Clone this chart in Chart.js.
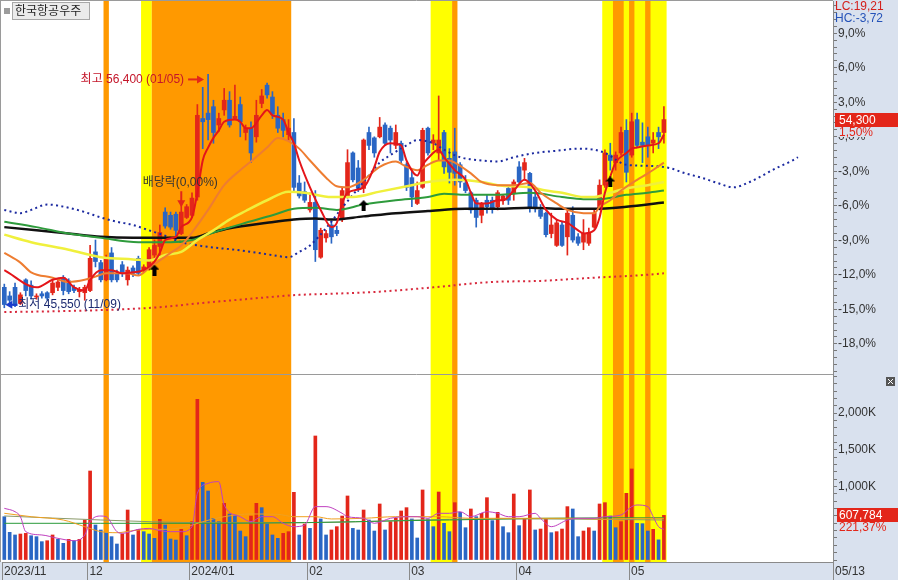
<!DOCTYPE html>
<html lang="ko">
<head>
<meta charset="utf-8">
<title>한국항공우주</title>
<script src="https://cdn.jsdelivr.net/npm/chart.js@4.4.1/dist/chart.umd.min.js"></script>
<style>
  html, body { margin: 0; padding: 0; background: #fff; }
  canvas { display: block; }
</style>
</head>
<body>
<canvas id="stockChart" width="898" height="580"></canvas>
<script>
const stockName = "한국항공우주";

// daily candles, 2023/11/09 .. 2024/05/13 (index 0..123)
const candleOpen = [46500,46100,46500,45750,46850,46600,46050,46200,46250,46250, 46500,46950,46800,46500,46300,46250,46350,48150,47650,46850, 48100,47150,47550,46850,47400,47850,47300,47400,48000,48400, 50000,49850,49900,49000,49750,49850,50700,54350,54600,54900, 54050,54750,55200,54350,55000,53700,53900,53500,55050,55900, 55350,54500,54300,53600,53700,51350,50950,50100,50450,47900, 48800,49400,49150,49650,50700,52750,52050,51100,53700,53450, 53500,54050,53900,53100,53200,52200,51600,50400,51150,53900, 53200,52750,53700,52500,52800,52200,51350,50900,50550,49850, 50550,50550,50250,50550,51100,50900,52100,51950,51800,50700, 50100,49950,49000,48450,49400,48850,49850,48850,48600,48550, 49300,50200,51250,52650,52300,52750,53800,52650,54300,53250, 53500,53200,53700,53700];
const candleHigh = [46650,46300,46700,46250,46900,46800,46200,46300,46300,46850, 46850,47050,46900,46600,46500,46600,48450,48700,47750,48000, 48350,47300,47700,47450,47500,47950,47550,48350,48700,49400, 50200,50000,50000,50550,50350,50900,55000,55800,56400,55200, 54600,55750,55600,55900,55350,54050,54200,55200,55700,56000, 55600,54900,54600,54300,54350,51700,51400,50900,51000,49250, 49150,49550,49350,51150,52900,52800,52400,53400,53950,53500, 54400,54150,54000,54050,53300,52300,51950,51400,53900,53950, 53600,55400,53800,52950,53900,52300,51700,50950,50650,50450, 50800,50700,51000,50800,51150,51500,52350,52500,51850,50950, 50350,50000,49950,49650,49550,50100,50250,49000,49650,49250, 50100,51500,52900,53200,52800,53950,54300,54600,54600,54150, 53950,53700,53950,54900];
const candleLow = [45550,45750,45600,45700,46100,45950,45950,46000,45900,46150, 46350,46150,46200,46250,46050,45900,46300,47450,46750,46800, 46750,46750,47000,46600,47000,47050,47200,47300,47750,47900, 49250,49200,48700,48950,49700,49750,50550,52950,53350,53200, 53750,54500,53950,54300,53500,53350,52300,53250,54850,55300, 54350,53700,53500,53350,50900,50650,50450,50000,47700,47850, 48600,48550,48900,49550,50650,51400,50950,50900,52900,52550, 53450,53100,52750,52950,52300,51000,50250,50350,51100,52650, 52900,52400,51800,51350,51250,51150,50900,49950,49300,49500, 49950,49950,50100,50350,50350,50550,51350,51500,50000,50000, 49700,48850,48800,48400,48400,48000,48600,48450,48250,48450, 49250,50100,51150,51950,51950,52650,51400,52550,53000,52300, 52550,52750,52950,53200];
const candleClose = [45700,45900,45650,46150,46350,46100,46100,46100,46000,46700, 46750,46350,46300,46350,46400,46500,47850,47700,46850,47850, 46850,46850,47150,47300,47150,47150,47450,48250,48450,49050, 49350,49300,49150,50000,50250,50650,54500,54200,54300,53700, 54350,55200,54050,54450,54200,53900,52750,54500,55400,55450, 54550,53900,53800,53900,51150,50750,50550,50450,48250,49150, 49000,48850,49000,51000,52300,51500,51100,53350,53100,52750, 53950,53200,53350,53700,52400,51150,50700,51000,53800,52750, 53350,53350,52100,51850,51800,51400,51000,50100,49750,50400, 50250,50200,50900,50750,50550,51400,51400,52300,50200,50250, 49800,48950,49400,49500,48450,49950,48700,48550,49000,49050, 49950,51250,52750,52400,52650,53700,51850,54200,53100,53100, 53100,53350,53500,54300];
const volume = [590000,377000,341000,354000,363000,331000,318000,250000,263000,341000, 282000,227000,282000,263000,282000,545000,1212000,477000,409000,377000, 318000,218000,354000,681000,341000,418000,386000,354000,295000,554000, 477000,286000,272000,418000,331000,522000,2189000,1058000,940000,568000, 522000,772000,627000,613000,395000,318000,599000,772000,713000,490000, 341000,295000,363000,386000,922000,341000,490000,431000,1689000,559000, 341000,409000,454000,599000,872000,431000,409000,681000,545000,395000, 763000,409000,522000,568000,668000,713000,559000,300000,954000,559000, 454000,926000,500000,386000,781000,649000,440000,695000,590000,636000, 849000,536000,649000,454000,372000,899000,468000,554000,954000,409000, 422000,554000,372000,386000,422000,727000,695000,318000,395000,440000, 395000,763000,781000,599000,440000,522000,908000,1240000,500000,495000, 395000,418000,274560,607784];

// price lines: [bar index, price]
const ma5 = [[0,47300],[6,46500],[9,46850],[11,46950],[13,46500],[15,46350],[16,46850],[18,47300],[20,47300],[22,47150],[24,47200],[26,47300],[28,47700],[29,48100],[30,48700],[32,48850],[33,49300],[35,49750],[36,50900],[37,52400],[38,53000],[39,53450],[40,53800],[41,54200],[43,54300],[44,54200],[45,53900],[46,53900],[48,54500],[49,54750],[50,54500],[52,54300],[53,53700],[54,53200],[55,52400],[57,51150],[59,50100],[61,49300],[62,49500],[63,50400],[64,50900],[67,51150],[69,52100],[70,52800],[72,53200],[74,53100],[75,52400],[77,51700],[78,52200],[79,52500],[81,52900],[82,52550],[84,51950],[86,51500],[87,50900],[88,50400],[90,50400],[92,50550],[93,50550],[95,51000],[97,51500],[99,51000],[101,50100],[103,49650],[105,49500],[107,49150],[108,49000],[110,49150],[111,49750],[112,50900],[113,51650],[114,52300],[116,52750],[117,52950],[118,53000],[120,53100],[122,53200],[123,53600]];
const ma20 = [[0,48100],[3,47650],[5,47200],[9,46950],[12,46750],[15,46850],[17,47000],[19,47150],[23,47150],[25,47050],[27,47400],[29,47750],[31,48100],[33,48450],[35,49050],[38,50100],[41,51250],[44,51950],[46,52350],[49,53000],[51,53450],[53,53300],[55,52950],[57,52400],[60,51600],[62,51200],[64,51150],[67,51500],[70,52100],[73,52350],[75,52100],[77,51950],[79,52200],[81,52400],[83,52400],[84,52300],[87,51800],[89,51400],[92,51250],[95,51250],[98,51350],[100,50900],[103,50400],[105,50100],[108,49950],[110,49950],[111,50250],[113,50550],[115,51000],[118,51500],[120,51800],[123,52300]];
const ma60 = [[0,48950],[5,48600],[12,48250],[18,47900],[24,47800],[27,47750],[30,48000],[33,48150],[36,48700],[39,49150],[42,49650],[45,50050],[49,50550],[53,50950],[56,50900],[61,50700],[65,50700],[70,50950],[76,51250],[79,51400],[84,51500],[89,51400],[92,51250],[98,51150],[101,51000],[104,50900],[108,50700],[110,50700],[113,50900],[116,51100],[120,51250],[123,51400]];
const ma120 = [[0,49550],[6,49300],[12,49000],[18,48800],[25,48600],[31,48600],[35,48700],[39,49050],[45,49500],[50,49850],[54,50150],[58,50200],[62,50100],[67,50350],[73,50550],[79,50700],[82,50850],[86,50800],[92,50800],[98,50900],[104,50700],[108,50600],[111,50600],[116,50800],[120,50900],[123,51000]];
const ma240 = [[0,49300],[6,49150],[12,49000],[18,48850],[24,48800],[30,48800],[35,48800],[38,49000],[42,49250],[49,49500],[54,49650],[58,49700],[61,49650],[67,49800],[73,49950],[79,50050],[86,50150],[92,50150],[98,50200],[104,50150],[110,50150],[116,50250],[123,50450]];
const leadSpan = [[0,50100],[3,49950],[5,50100],[8,50350],[12,50200],[15,50000],[18,49750],[21,49550],[24,49400],[27,49150],[30,48900],[33,48600],[36,48450],[39,48350],[43,48250],[46,48150],[50,48000],[53,47900],[55,48150],[57,48450],[60,49250],[63,50200],[66,51100],[68,51700],[70,52300],[72,52650],[75,53100],[77,53350],[80,53200],[82,52900],[85,52550],[89,52400],[92,52350],[95,52550],[99,52750],[103,52850],[107,52950],[110,52900],[112,52750],[116,52200],[120,52150],[124,52050],[127,51800],[130,51600],[133,51350],[136,51150],[139,51400],[141,51650],[144,52050],[147,52400],[148,52550]];
const lowerBand = [[0,45350],[12,45400],[24,45500],[30,45600],[36,45750],[45,45950],[55,46150],[61,46200],[70,46300],[80,46500],[91,46750],[100,46800],[110,46950],[118,47050],[123,47150]];

// volume lines: [bar index, shares]
const vma5 = [[0,704000],[2,658000],[3,590000],[4,386000],[7,341000],[10,295000],[13,263000],[15,341000],[16,522000],[18,599000],[19,590000],[21,386000],[22,363000],[25,418000],[27,431000],[29,400000],[31,386000],[33,386000],[35,454000],[36,908000],[38,1044000],[40,1067000],[41,749000],[44,590000],[46,522000],[48,590000],[50,590000],[52,500000],[54,454000],[56,477000],[58,727000],[60,727000],[63,636000],[64,590000],[67,568000],[69,500000],[72,568000],[75,590000],[77,590000],[79,568000],[81,636000],[83,636000],[85,658000],[87,590000],[90,658000],[92,636000],[94,590000],[96,590000],[99,636000],[100,568000],[102,454000],[105,545000],[107,568000],[110,568000],[112,590000],[115,613000],[117,727000],[118,749000],[120,727000],[121,590000],[122,454000],[123,418000]];
const vma20 = [[0,636000],[5,590000],[11,545000],[15,454000],[18,386000],[21,372000],[24,400000],[27,418000],[30,418000],[34,454000],[37,522000],[41,590000],[46,627000],[51,622000],[54,590000],[58,590000],[61,559000],[67,568000],[73,590000],[81,590000],[87,568000],[93,568000],[100,568000],[106,568000],[112,554000],[118,568000],[123,568000]];
const vma60 = [[0,500000],[18,500000],[37,500000],[56,509000],[75,536000],[83,545000],[100,568000],[123,577000]];
const vma120 = [[0,600000],[18,545000],[37,509000],[56,509000],[83,554000],[100,559000],[123,545000]];

// signal periods (bar index ranges)
const yellowBands = [[26,27],[80,83],[112,123]];
const orangeBands = [[19,19],[28,53],[84,84],[114,115],[117,117],[120,120]];
const buySignalIdx = [28, 67, 113];
const buySignalPrice = [47300, 50300, 51400];
const exDivIdx = 33;
const exDivLabel = "배당락(0,00%)";
const highDate = "01/05";
const lowDate = "11/09";

// x axis
const monthTickIdx = [-0.43, 15.5, 34.5, 56.5, 75.5, 95.5, 116.5, 154.53];
const monthLabels = ["2023/11", "12", "2024/01", "02", "03", "04", "05", "05/13"];

const uiFont = "'Liberation Sans', 'Noto Sans CJK KR', sans-serif";
const axisBg = "#d9e1ee";
const upColor = "#e3261a";
const downColor = "#2a66c4";
const basePrice = candleClose[candleClose.length - 2];

const candleColors = candleOpen.map((o, i) => candleClose[i] >= o ? upColor : downColor);
const volumeColors = volume.map((v, i) => i > 0 && v >= volume[i - 1] ? upColor : downColor);

const fmt = v => Math.round(v).toLocaleString("en-US");
const pct = v => v.toFixed(2).replace(".", ",");

// small black "buy" arrow used as point style
const buyArrow = document.createElement("canvas");
buyArrow.width = 10;
buyArrow.height = 11;
(() => {
  const c = buyArrow.getContext("2d");
  c.fillStyle = "#000";
  c.beginPath();
  c.moveTo(5, 0); c.lineTo(10, 5); c.lineTo(7, 5); c.lineTo(7, 11);
  c.lineTo(3, 11); c.lineTo(3, 5); c.lineTo(0, 5);
  c.closePath();
  c.fill();
})();

function arrow(ctx, x1, y1, x2, y2, color) {
  const a = Math.atan2(y2 - y1, x2 - x1), c = Math.cos(a), s = Math.sin(a);
  ctx.strokeStyle = color;
  ctx.fillStyle = color;
  ctx.lineWidth = 2;
  ctx.beginPath();
  ctx.moveTo(x1, y1);
  ctx.lineTo(x2 - 5 * c, y2 - 5 * s);
  ctx.stroke();
  ctx.beginPath();
  ctx.moveTo(x2, y2);
  ctx.lineTo(x2 - 7 * c + 4 * s, y2 - 7 * s - 4 * c);
  ctx.lineTo(x2 - 7 * c - 4 * s, y2 - 7 * s + 4 * c);
  ctx.closePath();
  ctx.fill();
}

const backdrop = {
  id: "backdrop",
  beforeDraw(chart) {
    const {ctx, width, height, chartArea: a} = chart;
    ctx.save();
    ctx.fillStyle = "#fff";
    ctx.fillRect(0, 0, width, height);
    ctx.fillStyle = axisBg;
    ctx.fillRect(a.right, 0, width - a.right, height);
    ctx.fillRect(0, a.bottom, a.right, height - a.bottom);
    ctx.restore();
  },
  beforeDatasetsDraw(chart) {
    const {ctx, chartArea: a, scales} = chart;
    const xs = scales.x;
    ctx.save();
    const paint = (list, color) => list.forEach(([s, e]) => {
      const l = xs.getPixelForValue(s - 0.5), r = xs.getPixelForValue(e + 0.5);
      ctx.fillStyle = color;
      ctx.fillRect(l, a.top, r - l, a.bottom - a.top);
    });
    paint(yellowBands, "#ffff00");
    paint(orangeBands, "#ff9900");
    const sep = Math.round(scales.yv.top) + 0.5;
    ctx.strokeStyle = "#9a9a9a";
    ctx.lineWidth = 1;
    ctx.beginPath();
    ctx.moveTo(0, sep);
    ctx.lineTo(a.right, sep);
    ctx.stroke();
    ctx.restore();
  }
};

const overlay = {
  id: "overlay",
  afterDraw(chart) {
    const {ctx, chartArea: a, scales} = chart;
    const xs = scales.x, ys = scales.y, yv = scales.yv;
    const n = candleClose.length;
    const last = candleClose[n - 1], prev = candleClose[n - 2];
    ctx.save();
    ctx.font = "12px " + uiFont;
    ctx.textBaseline = "middle";

    // frame
    ctx.strokeStyle = "#9a9a9a";
    ctx.lineWidth = 1;
    ctx.beginPath();
    ctx.moveTo(0.5, 0);
    ctx.lineTo(0.5, a.bottom);
    ctx.moveTo(0, 0.5);
    ctx.lineTo(a.right, 0.5);
    ctx.stroke();

    // name box
    ctx.fillStyle = "#9c9c9c";
    ctx.fillRect(4, 8, 6, 6);
    ctx.fillStyle = "#ebebeb";
    ctx.fillRect(12, 2, 78, 18);
    ctx.strokeStyle = "#a8a8a8";
    ctx.strokeRect(12.5, 2.5, 77, 17);
    ctx.fillStyle = "#222";
    ctx.fillText(stockName, 15, 11.5);

    // LC / HC
    const lo = candleLow.indexOf(Math.min(...candleLow));
    const hi = candleHigh.indexOf(Math.max(...candleHigh));
    ctx.fillStyle = "#d4201c";
    ctx.fillText("LC:" + pct((last / candleLow[lo] - 1) * 100), a.right + 2, 7);
    ctx.fillStyle = "#2452b8";
    ctx.fillText("HC:" + pct((last / candleHigh[hi] - 1) * 100), a.right + 2, 19);

    // last price
    const py = Math.round(ys.getPixelForValue(last));
    ctx.fillStyle = upColor;
    ctx.fillRect(a.right + 2, py - 7, 63, 14);
    ctx.fillStyle = "#fff";
    ctx.fillText(fmt(last), a.right + 6, py + 0.5);
    ctx.fillStyle = axisBg;
    ctx.fillRect(a.right + 4, py + 7, 40, 10);
    ctx.fillStyle = upColor;
    ctx.fillText(pct((last / prev - 1) * 100) + "%", a.right + 6, py + 13);

    // last volume
    const lv = volume[n - 1], pv = volume[n - 2];
    const vy = Math.round(yv.getPixelForValue(lv));
    ctx.fillStyle = upColor;
    ctx.fillRect(a.right + 4, vy - 7, 61, 14);
    ctx.fillStyle = "#fff";
    ctx.fillText(fmt(lv), a.right + 6, vy + 0.5);
    ctx.fillStyle = axisBg;
    ctx.fillRect(a.right + 4, vy + 7, 50, 12);
    ctx.fillStyle = upColor;
    ctx.fillText(pct(lv / pv * 100) + "%", a.right + 6, vy + 13);

    // close icon on the volume pane
    const iy = Math.round(yv.top) + 3;
    ctx.fillStyle = "#555";
    ctx.fillRect(886, iy, 9, 9);
    ctx.strokeStyle = "#fff";
    ctx.lineWidth = 1;
    ctx.beginPath();
    ctx.moveTo(888, iy + 2); ctx.lineTo(893, iy + 7);
    ctx.moveTo(893, iy + 2); ctx.lineTo(888, iy + 7);
    ctx.stroke();

    // highest
    const hx = xs.getPixelForValue(hi), hy = ys.getPixelForValue(candleHigh[hi]);
    ctx.textAlign = "right";
    ctx.fillStyle = "#c4162a";
    ctx.fillText("최고 " + fmt(candleHigh[hi]) + " (" + highDate + ")", hx - 24, hy + 5);
    arrow(ctx, hx - 20, hy + 5, hx - 4, hy + 5, upColor);

    // lowest
    const lx = xs.getPixelForValue(lo), ly = ys.getPixelForValue(candleLow[lo]);
    arrow(ctx, lx + 13, ly - 3, lx + 1, ly - 3, "#1a3ccc");
    ctx.textAlign = "left";
    ctx.fillStyle = "#1c2a70";
    ctx.fillText("최저 " + fmt(candleLow[lo]) + " (" + lowDate + ")", lx + 14, ly - 3);

    // ex-dividend
    const dx = xs.getPixelForValue(exDivIdx), dy = ys.getPixelForValue(candleHigh[exDivIdx]);
    ctx.textAlign = "center";
    ctx.fillStyle = "#333";
    ctx.fillText(exDivLabel, dx - 1, dy - 18);
    arrow(ctx, dx, dy - 9, dx, dy + 7, upColor);
    ctx.restore();
  }
};

const lineSet = (data, color, width, order, extra) => Object.assign({
  type: "line", data, borderColor: color, borderWidth: width, pointRadius: 0,
  cubicInterpolationMode: "monotone", fill: false, order, yAxisID: "y"
}, extra || {});

const axisFont = {family: uiFont, size: 12};
const fitY = s => { s.width = 65; s.paddingTop = 0; s.paddingBottom = 0; };

new Chart(document.getElementById("stockChart"), {
  type: "bar",
  data: {
    datasets: [
      {
        type: "line", data: buySignalIdx.map((v, i) => [v, buySignalPrice[i]]), showLine: false,
        pointStyle: buyArrow, pointRadius: 5, order: 0, yAxisID: "y"
      },
      lineSet(ma5, "#e4151a", 2, 1),
      lineSet(ma20, "#ee7d31", 2, 2),
      lineSet(ma60, "#f0f03c", 2.5, 3),
      lineSet(ma120, "#2e9b3c", 2, 4),
      lineSet(ma240, "#111111", 2.5, 5),
      lineSet(leadSpan, "#1c2aa0", 2, 6, {borderDash: [2, 3.36]}),
      lineSet(lowerBand, "#d8283c", 2, 6, {borderDash: [2, 3.36]}),
      {
        type: "bar", data: candleOpen.map((o, i) => ({x: i, y: [o, candleClose[i]]})),
        backgroundColor: candleColors, barThickness: 4, grouped: false, minBarLength: 1,
        order: 8, yAxisID: "y"
      },
      {
        type: "bar", data: candleLow.map((l, i) => ({x: i, y: [l, candleHigh[i]]})),
        backgroundColor: candleColors, barThickness: 1, grouped: false,
        order: 9, yAxisID: "y"
      },
      lineSet(vma5, "#c040c0", 1, 1, {yAxisID: "yv"}),
      lineSet(vma20, "#f0a020", 1, 2, {yAxisID: "yv"}),
      lineSet(vma60, "#2a9a3a", 1, 3, {yAxisID: "yv"}),
      lineSet(vma120, "#8a9a6a", 1, 4, {yAxisID: "yv"}),
      {
        type: "bar", data: volume.map((v, i) => ({x: i, y: v})),
        backgroundColor: volumeColors, barThickness: 3, grouped: false,
        order: 9, yAxisID: "yv"
      }
    ]
  },
  options: {
    responsive: false,
    animation: false,
    events: [],
    devicePixelRatio: 1,
    layout: {autoPadding: false, padding: {left: 2, top: 1, right: 0, bottom: 0}},
    plugins: {legend: {display: false}, tooltip: {enabled: false}},
    scales: {
      x: {
        type: "linear", min: monthTickIdx[0], max: monthTickIdx[monthTickIdx.length - 1],
        bounds: "data", offset: false,
        afterBuildTicks: s => { s.ticks = monthTickIdx.map(v => ({value: v})); },
        afterFit: s => { s.height = 18; s.paddingLeft = 0; s.paddingRight = 0; },
        ticks: {
          autoSkip: false, maxRotation: 0, align: "start", labelOffset: 2, padding: -16,
          color: "#333", font: axisFont,
          callback: (v, i) => monthLabels[i]
        },
        grid: {drawOnChartArea: false, drawTicks: true, tickLength: 18, tickColor: "#8a8a8a", offset: false},
        border: {color: "#8a8a8a"}
      },
      y: {
        type: "linear", position: "right", stack: "pane", stackWeight: 373,
        min: 42470, max: 59815, bounds: "data",
        afterBuildTicks: s => {
          const t = [];
          for (let k = -34; k <= 19; k++) {
            const v = basePrice * (1 + k * 0.6 / 100);
            if (v >= s.min && v <= s.max) t.push({value: v});
          }
          s.ticks = t;
        },
        afterFit: fitY,
        ticks: {
          autoSkip: false, padding: 1, color: "#333", font: axisFont,
          callback: v => {
            const r = Math.round((v / basePrice - 1) * 1000);
            return r % 30 === 0 ? (r / 10).toFixed(1).replace(".", ",") + "%" : "";
          }
        },
        grid: {drawOnChartArea: false, drawTicks: true, tickLength: 4, tickColor: "#777"},
        border: {color: "#8a8a8a"}
      },
      yv: {
        type: "linear", position: "right", stack: "pane", stackWeight: 188,
        min: -27000, max: 2533000, bounds: "data",
        afterBuildTicks: s => {
          const t = [];
          for (let k = 0; k <= 25; k++) t.push({value: k * 100000});
          s.ticks = t;
        },
        afterFit: fitY,
        ticks: {
          autoSkip: false, padding: 1, color: "#333", font: axisFont,
          callback: v => {
            const k = Math.round(v / 100000);
            return k % 5 === 0 && k >= 10 && k <= 20 ? fmt(k * 100) + "K" : "";
          }
        },
        grid: {drawOnChartArea: false, drawTicks: true, tickLength: 4, tickColor: "#777"},
        border: {color: "#8a8a8a"}
      }
    }
  },
  plugins: [backdrop, overlay]
});
</script>
</body>
</html>
